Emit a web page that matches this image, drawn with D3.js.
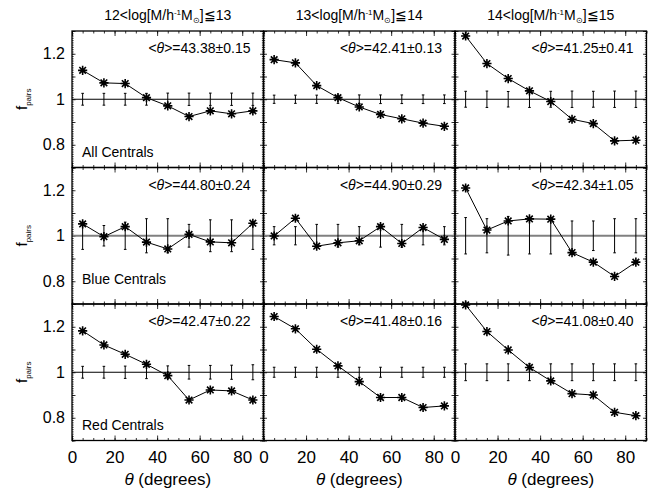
<!DOCTYPE html>
<html><head><meta charset="utf-8">
<script src="https://cdn.jsdelivr.net/npm/d3@7"></script>
<style>body{margin:0;background:#fff}svg{display:block}text{font-family:"Liberation Sans",Arial,sans-serif;fill:#000}</style>
</head><body><div id="chart"></div>
<script>
const theta = [5,15,25,35,45,55,65,75,85];
const massBins = [["12","13"],["13","14"],["14","15"]];
const rowNames = ["All Centrals","Blue Centrals","Red Centrals"];
const meanLabels = [
  ["43.38±0.15","42.41±0.13","41.25±0.41"],
  ["44.80±0.24","44.90±0.29","42.34±1.05"],
  ["42.47±0.22","41.48±0.16","41.08±0.40"]
];
const all_m1 = [1.127,1.072,1.069,1.007,0.971,0.924,0.949,0.936,0.949];
const all_m2 = [1.174,1.160,1.060,1.007,0.966,0.933,0.914,0.895,0.881];
const all_m3 = [1.278,1.157,1.091,1.037,0.990,0.912,0.893,0.817,0.820];
const blue_m1 = [1.052,0.996,1.040,0.972,0.942,1.006,0.973,0.969,1.055];
const blue_m2 = [0.999,1.077,0.954,0.969,0.978,1.040,0.966,1.036,0.984];
const blue_m3 = [1.210,1.025,1.065,1.074,1.073,0.926,0.884,0.821,0.884];
const red_m1 = [1.182,1.120,1.079,1.035,0.985,0.878,0.922,0.918,0.878];
const red_m2 = [1.245,1.191,1.101,1.028,0.959,0.889,0.889,0.845,0.852];
const red_m3 = [1.296,1.179,1.098,1.021,0.962,0.906,0.900,0.824,0.809];
// half-length of the error bars around f = 1
const all_e1 = [0.026,0.026,0.026,0.026,0.027,0.027,0.027,0.027,0.027];
const all_e2 = [0.018,0.018,0.018,0.018,0.019,0.019,0.019,0.019,0.019];
const all_e3 = [0.035,0.036,0.034,0.036,0.035,0.036,0.035,0.036,0.036];
const blue_e1 = [0.06,0.045,0.06,0.075,0.075,0.05,0.07,0.07,0.06];
const blue_e2 = [0.04,0.04,0.05,0.05,0.04,0.05,0.05,0.04,0.04];
const blue_e3 = [0.08,0.075,0.085,0.08,0.08,0.065,0.065,0.075,0.075];
const red_e1 = [0.026,0.026,0.027,0.028,0.028,0.030,0.030,0.031,0.033];
const red_e2 = [0.022,0.022,0.022,0.022,0.022,0.022,0.022,0.022,0.022];
const red_e3 = [0.037,0.037,0.037,0.037,0.037,0.037,0.037,0.037,0.037];
const xTickLabels = [0,20,40,60,80];
const yTickLabels = [0.8,1.0,1.2];

const values = [[all_m1,all_m2,all_m3],[blue_m1,blue_m2,blue_m3],[red_m1,red_m2,red_m3]];
const errors = [[all_e1,all_e2,all_e3],[blue_e1,blue_e2,blue_e3],[red_e1,red_e2,red_e3]];

const W=649,H=493, L=72, T=31, PW=191.5, PH=136.5;
const svg = d3.select("#chart").append("svg").attr("width",W).attr("height",H);
const x = d3.scaleLinear().domain([0,90]).range([0,PW]);
const y = d3.scaleLinear().domain([0.7,1.3]).range([PH,0]);

function star(r){
  const d=r*0.72;
  return `M${-r},0L${r},0M0,${-r}L0,${r}M${-d},${-d}L${d},${d}M${-d},${d}L${d},${-d}`;
}
const labelOffset=[11,20,11];

for(let r=0;r<3;r++){
  for(let c=0;c<3;c++){
    const g = svg.append("g").attr("transform",`translate(${L+c*PW},${T+r*PH})`);
    // ticks on all four sides, pointing inward
    const mk = (axisFn, vals, len, tr) => {
      const a = g.append("g").attr("transform",tr)
        .call(axisFn.tickValues(vals).tickSizeInner(len).tickSizeOuter(0).tickFormat(""));
      a.select(".domain").remove();
      a.selectAll("line").attr("stroke","#000").attr("stroke-width",0.8);
    };
    const xMinor = d3.range(0,91,5), xMajor = d3.range(0,91,20);
    const yMinor = d3.range(70,131,1).map(v=>v/100), yMajor = d3.range(7,14,1).map(v=>v/10);
    mk(d3.axisBottom(x), xMinor, -2.5, `translate(0,${PH})`);
    mk(d3.axisBottom(x), xMajor, -5, `translate(0,${PH})`);
    mk(d3.axisTop(x), xMinor, -2.5, `translate(0,0)`);
    mk(d3.axisTop(x), xMajor, -5, `translate(0,0)`);
    mk(d3.axisLeft(y), yMinor, -1.6, `translate(0,0)`);
    mk(d3.axisLeft(y), yMajor, -3.5, `translate(0,0)`);
    mk(d3.axisRight(y), yMinor, -1.6, `translate(${PW},0)`);
    mk(d3.axisRight(y), yMajor, -3.5, `translate(${PW},0)`);

    // reference line at 1
    g.append("line").attr("x1",0).attr("x2",PW).attr("y1",y(1)).attr("y2",y(1))
      .attr("stroke", r===1?"#808080":"#000").attr("stroke-width", r===1?2:1.1);

    // error bars
    const eb = g.append("g");
    theta.forEach((t,i)=>{
      const e = errors[r][c][i];
      const xx = x(t);
      eb.append("line").attr("x1",xx).attr("x2",xx).attr("y1",y(1-e)).attr("y2",y(1+e)).attr("stroke","#000").attr("stroke-width",1);
      [1-e,1+e].forEach(v=>eb.append("line").attr("x1",xx-1.3).attr("x2",xx+1.3).attr("y1",y(v)).attr("y2",y(v)).attr("stroke","#000").attr("stroke-width",1));
    });

    // data line + asterisks
    const vals = values[r][c];
    g.append("path").datum(vals)
      .attr("d", d3.line().x((d,i)=>x(theta[i])).y(d=>y(d)))
      .attr("fill","none").attr("stroke","#000").attr("stroke-width",1);
    g.selectAll(".pt").data(vals).enter().append("path")
      .attr("transform",(d,i)=>`translate(${x(theta[i])},${y(d)})`)
      .attr("d",star(4.6)).attr("stroke","#000").attr("stroke-width",1.6).attr("fill","none");

    // frame
    g.append("rect").attr("width",PW).attr("height",PH).attr("fill","none").attr("stroke","#000").attr("stroke-width",1.3);

    // mean theta annotation
    const tx = g.append("text").attr("x",PW-13).attr("y",22).attr("text-anchor","end").attr("font-size",14);
    tx.append("tspan").text("<");
    tx.append("tspan").text("θ").attr("font-style","italic");
    tx.append("tspan").text(">=" + meanLabels[r][c]);

    if(c===0){
      g.append("text").attr("x",10).attr("y",PH-labelOffset[r]).attr("font-size",14).text(rowNames[r]);
      const ya = g.append("g").call(d3.axisLeft(y).tickValues(yTickLabels).tickSize(0).tickPadding(7)
        .tickFormat(d=>d===1?"1":d3.format(".1f")(d)));
      ya.select(".domain").remove();
      ya.selectAll("text").attr("font-size",16).attr("font-family","Liberation Sans, Arial, sans-serif");
      // y title
      const yt = svg.append("text").attr("transform",`translate(27,${T+r*PH+y(1)}) rotate(-90)`)
        .attr("text-anchor","middle").attr("font-size",15);
      yt.append("tspan").text("f");
      yt.append("tspan").text("pairs").attr("font-size",8).attr("dy",4);
    }
    if(r===2){
      const xa = g.append("g").attr("transform",`translate(0,${PH})`)
        .call(d3.axisBottom(x).tickValues(xTickLabels).tickSize(0).tickPadding(10));
      xa.select(".domain").remove();
      xa.selectAll("text").attr("font-size",17).attr("font-family","Liberation Sans, Arial, sans-serif");
      const xt = g.append("text").attr("x",PW/2).attr("y",PH+44).attr("text-anchor","middle").attr("font-size",17);
      xt.append("tspan").text("θ").attr("font-style","italic");
      xt.append("tspan").text(" (degrees)");
    }
    if(r===0){
      const tt = svg.append("text").attr("x",L+c*PW+PW/2).attr("y",20).attr("text-anchor","middle").attr("font-size",14);
      tt.append("tspan").text(massBins[c][0]+"<log[M/h");
      tt.append("tspan").text("-1").attr("font-size",8).attr("dy",-5);
      tt.append("tspan").text("M").attr("dy",5);
      tt.append("tspan").text("⊙").attr("font-size",8).attr("dy",3);
      tt.append("tspan").text("]≦"+massBins[c][1]).attr("dy",-3);
    }
  }
}
</script></body></html>
